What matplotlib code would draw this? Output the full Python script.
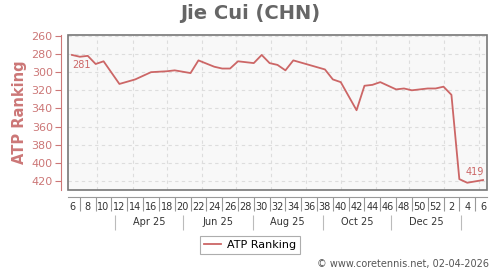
import matplotlib
matplotlib.use("Agg")
import matplotlib.pyplot as plt
from matplotlib.patches import Rectangle
from matplotlib.ticker import FixedLocator, NullFormatter

# week index (0 = week 6 of 2025 ... 52 = week 6 of 2026)
weeks = [0, 1, 2, 3, 4, 6, 8, 10, 12, 13, 15, 16, 18, 19, 20, 21, 23, 24, 25, 26,
         27, 28, 32, 33, 34, 36, 37, 38, 39, 41, 42, 43, 45, 46, 47, 48, 49, 50, 52]
ranking = [281, 283, 282, 291, 288, 313, 308, 300, 299, 298, 301, 287, 294, 296, 296, 288,
           290, 281, 290, 292, 298, 287, 297, 308, 311, 342, 315, 314, 311, 319, 318, 320,
           318, 318, 316, 325, 418, 422, 419]

week_ticks = list(range(0, 53, 2))
week_labels = ["6", "8", "10", "12", "14", "16", "18", "20", "22", "24", "26", "28", "30",
               "32", "34", "36", "38", "40", "42", "44", "46", "48", "50", "52", "2", "4", "6"]
month_pos = [9.75, 18.5, 27.3, 36.1, 44.8]
month_labels = ["Apr 25", "Jun 25", "Aug 25", "Oct 25", "Dec 25"]
month_seps = [5.4, 14.1, 22.9, 31.7, 40.4, 49.2]
month_grid = [3.2, 7.7, 12.0, 16.4, 20.8, 25.2, 29.6, 34.0, 38.4, 42.6, 47.0, 51.5]
y_ticks = [260, 280, 300, 320, 340, 360, 380, 400, 420]

line_color = "#cc6666"
axis_color = "#cc7777"

fig = plt.figure(figsize=(5, 2.7), dpi=100)
ax = fig.add_axes([68 / 500, (270 - 190) / 270, 419 / 500, 155 / 270])
ax.set_facecolor("#f8f8f8")

ax.plot(weeks, ranking, color=line_color, lw=1.3, label="ATP Ranking", zorder=3)
ax.set_xlim(-0.5, 52.5)
ax.set_ylim(430, 259)

# frame
ax.add_patch(Rectangle((0, 0), 1, 1, transform=ax.transAxes, fill=False,
                       edgecolor="#777777", lw=1.2, zorder=5, clip_on=False))

# grid
for g in month_grid:
    ax.axvline(g, color="#dddddd", lw=0.8, ls=(0, (3, 3)), zorder=1)
for yt in y_ticks:
    ax.axhline(yt, color="#dddddd", lw=0.8, ls=(0, (3, 3)), zorder=1)

# spines
for s in ["top", "right"]:
    ax.spines[s].set_visible(False)
ax.spines["left"].set_position(("outward", 5))
ax.spines["left"].set_color(axis_color)
ax.spines["bottom"].set_position(("outward", 5))
ax.spines["bottom"].set_color("#999999")

ax.set_yticks(y_ticks)
ax.tick_params(axis="y", colors=axis_color, labelsize=8, length=4, width=0.8, pad=2)

ax.set_xticks(week_ticks)
ax.set_xticklabels(week_labels)
ax.xaxis.set_minor_locator(FixedLocator([i for i in range(1, 52, 2)]))
ax.xaxis.set_minor_formatter(NullFormatter())
ax.tick_params(axis="x", which="major", length=0, labelsize=7, colors="#333333", pad=3.5)
ax.tick_params(axis="x", which="minor", length=10, width=0.8, color="#999999")

sec = ax.secondary_xaxis("bottom")
sec.spines["bottom"].set_position(("outward", 18))
sec.spines["bottom"].set_visible(False)
sec.set_xticks(month_pos)
sec.set_xticklabels(month_labels)
sec.xaxis.set_minor_locator(FixedLocator(month_seps))
sec.xaxis.set_minor_formatter(NullFormatter())
sec.tick_params(axis="x", which="major", length=0, labelsize=7, colors="#333333", pad=1.5)
sec.tick_params(axis="x", which="minor", length=11, width=0.8, color="#bbbbbb", direction="out")

ax.set_ylabel("ATP Ranking", color=axis_color, fontsize=10.5, fontweight="bold", labelpad=3)

fig.suptitle("Jie Cui (CHN)", x=0.5, y=0.985, fontsize=14, fontweight="bold", color="#666666")

# annotations
ax.annotate(str(ranking[0]), (weeks[0], ranking[0]), xytext=(0, -7), textcoords="offset points",
            ha="left", va="center", fontsize=7, color=line_color)
ax.annotate(str(ranking[-1]), (weeks[-1], ranking[-1]), xytext=(1, 5.5), textcoords="offset points",
            ha="right", va="center", fontsize=7, color=line_color)

leg = fig.legend(loc="center", bbox_to_anchor=(0.5, (270 - 245) / 270),
                 fontsize=8, frameon=True, fancybox=False, edgecolor="#999999",
                 handlelength=1.5, borderpad=0.4, handletextpad=0.5)
leg.get_frame().set_linewidth(0.8)

fig.text(0.978, 0.005, "\u00a9 www.coretennis.net, 02-04-2026", ha="right", va="bottom",
         fontsize=7, color="#555555")

fig.savefig("out.png", dpi=100)
